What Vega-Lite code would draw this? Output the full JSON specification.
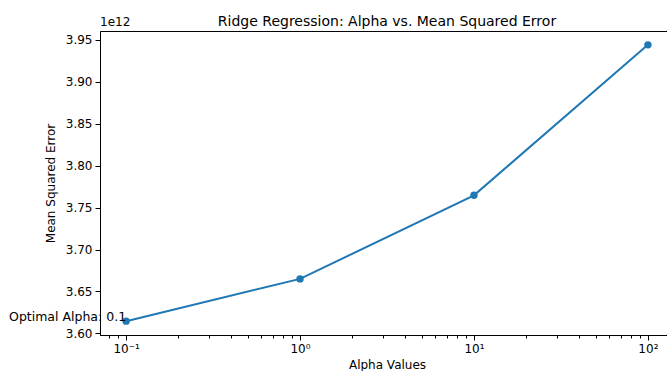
{
  "$schema": "https://vega.github.io/schema/vega-lite/v6.json",
  "width": 574,
  "height": 304,
  "autosize": {"type": "none"},
  "padding": {"left": 100, "top": 31, "right": 0, "bottom": 36},
  "background": "white",
  "config": {
    "font": "DejaVu Sans",
    "view": {"stroke": "black", "strokeWidth": 1},
    "axis": {
      "grid": false,
      "domainColor": "black",
      "tickColor": "black",
      "labelColor": "black",
      "titleColor": "black",
      "labelFont": "DejaVu Sans",
      "titleFont": "DejaVu Sans",
      "titleFontWeight": "normal",
      "labelFontSize": 12,
      "titleFontSize": 12
    }
  },
  "title": {
    "text": "Ridge Regression: Alpha vs. Mean Squared Error",
    "fontSize": 14,
    "fontWeight": "normal",
    "font": "DejaVu Sans",
    "color": "black",
    "anchor": "middle",
    "offset": -13
  },
  "data": {
    "values": [
      {"alpha": 0.1, "mse": 3.6146e12},
      {"alpha": 1, "mse": 3.665e12},
      {"alpha": 10, "mse": 3.7646e12},
      {"alpha": 100, "mse": 3.944e12}
    ]
  },
  "encoding": {
    "x": {
      "field": "alpha",
      "type": "quantitative",
      "scale": {"type": "log", "domain": [0.07079, 141.25], "nice": false},
      "axis": {
        "title": "Alpha Values",
        "values": [0.08, 0.09, 0.1, 0.2, 0.3, 0.4, 0.5, 0.6, 0.7, 0.8, 0.9, 1, 2, 3, 4, 5, 6, 7, 8, 9, 10, 20, 30, 40, 50, 60, 70, 80, 90, 100],
        "labelExpr": "datum.value == 0.1 ? '10⁻¹' : datum.value == 1 ? '10⁰' : datum.value == 10 ? '10¹' : datum.value == 100 ? '10²' : ''",
        "tickSize": {"condition": {"test": "datum.value == 0.1 || datum.value == 1 || datum.value == 10 || datum.value == 100", "value": 5}, "value": 3},
        "labelPadding": 3,
        "titlePadding": 5,
        "labelFlush": false,
        "labelOverlap": false
      }
    },
    "y": {
      "field": "mse",
      "type": "quantitative",
      "scale": {"domain": [3.5981e12, 3.9605e12], "nice": false, "zero": false},
      "axis": {
        "title": "Mean Squared Error",
        "values": [3.6e12, 3.65e12, 3.7e12, 3.75e12, 3.8e12, 3.85e12, 3.9e12, 3.95e12],
        "labelExpr": "format(datum.value / 1e12, '.2f')",
        "tickSize": 5,
        "labelPadding": 3,
        "titlePadding": 8
      }
    }
  },
  "layer": [
    {
      "mark": {"type": "line", "color": "#1f77b4", "strokeWidth": 2}
    },
    {
      "mark": {"type": "circle", "color": "#1f77b4", "opacity": 1, "size": 55}
    },
    {
      "transform": [{"filter": "datum.alpha == 0.1"}],
      "mark": {"type": "text", "align": "right", "baseline": "bottom", "fontSize": 12.5, "color": "black", "dy": 3, "dx": 0},
      "encoding": {"text": {"value": "Optimal Alpha: 0.1"}}
    },
    {
      "data": {"values": [{"offset": "1e12", "xpos": 0.07079, "ypos": 3.9605e12}]},
      "mark": {"type": "text", "align": "left", "baseline": "bottom", "fontSize": 12, "color": "black", "dy": -2},
      "encoding": {
        "x": {"field": "xpos", "type": "quantitative"},
        "y": {"field": "ypos", "type": "quantitative"},
        "text": {"field": "offset"}
      }
    }
  ]
}
